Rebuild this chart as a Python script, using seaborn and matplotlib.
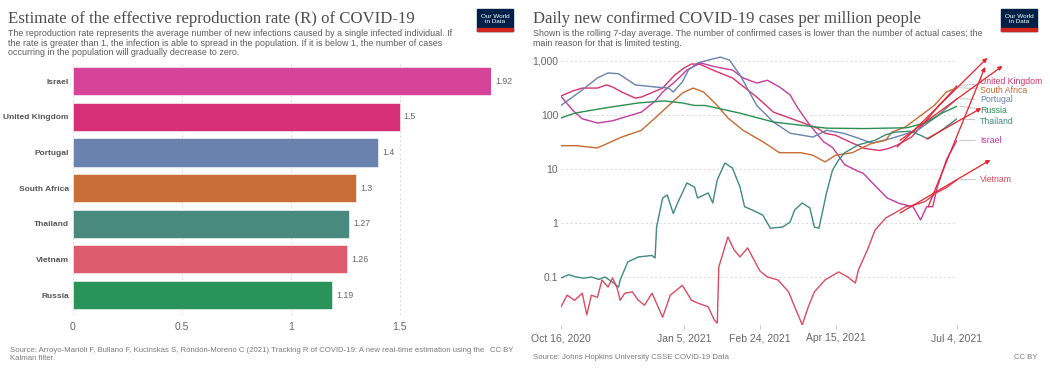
"""
Two-panel OWID style chart: R estimate bars + daily cases per million (log scale)
"""

import matplotlib.pyplot as plt
import matplotlib.dates as mdates
from matplotlib.patches import Rectangle
import seaborn as sns
import pandas as pd

sns.set_style("white")
plt.rcParams['font.family'] = ['Liberation Sans', 'DejaVu Sans']

W, H = 1050, 370

# ---- left panel data ----
r_countries = ['Israel', 'United Kingdom', 'Portugal', 'South Africa', 'Thailand', 'Vietnam', 'Russia']
r_values = [1.92, 1.5, 1.4, 1.3, 1.27, 1.26, 1.19]
bar_colors = ['#d6449a', '#d62f78', '#6a82ae', '#c96e37', '#488a7e', '#de5a6d', '#2a935a']

# ---- right panel data (days after Oct 16, 2020 ; cases per million) ----
start_date = pd.Timestamp('2020-10-16')

uk_days = [0, 8, 14, 24, 30, 34, 40, 49, 53, 60, 67, 75, 81, 86, 92, 100, 113, 129, 140, 158, 169, 174,
           181, 190, 200, 210, 216, 222, 231, 240, 249, 256, 261]
uk_cases = [225, 280, 315, 315, 360, 330, 266, 205, 215, 260, 315, 550, 740, 880, 860, 680, 485, 215, 113, 74, 57, 46,
            42, 32, 24, 22, 24, 28, 39, 74, 150, 240, 350]

israel_days = [0, 8, 14, 24, 34, 40, 53, 62, 67, 75, 83, 92, 100, 108, 113, 120, 129, 136, 144, 151, 156, 164, 173,
               179, 187, 196, 199, 208, 215, 223, 232, 237, 241, 245, 248, 254, 261]
israel_cases = [220, 120, 85, 71, 78, 88, 113, 180, 266, 410, 680, 920, 800, 720, 680, 485, 390, 440, 330, 235, 135, 65, 32,
                25, 12, 9, 8.4, 4.6, 2.9, 2.3, 2.0, 1.14, 2.0, 2.0, 4.6, 14.7, 34]

portugal_days = [0, 14, 24, 31, 38, 49, 62, 71, 74, 80, 84, 90, 105, 111, 118, 129, 140, 151, 166, 175, 186,
                 195, 205, 218, 235, 248, 261]
portugal_cases = [150, 290, 485, 600, 580, 360, 330, 315, 266, 410, 680, 920, 1180, 1040, 550, 150, 74, 46, 39, 52, 46,
                  38, 30, 37, 52, 95, 200]

south_africa_days = [0, 10, 24, 40, 53, 62, 71, 80, 87, 94, 103, 110, 120, 133, 144, 158, 166, 174, 181, 192,
                     199, 205, 214, 218, 227, 235, 246, 254, 261]
south_africa_cases = [27, 27, 24.5, 39, 52, 88, 150, 255, 315, 266, 150, 88, 52, 32, 20, 20, 18, 13.5, 18, 20,
                      25, 30, 34, 48, 60, 88, 150, 266, 320]

russia_days = [0, 9, 29, 51, 68, 80, 88, 95, 118, 140, 151, 175, 200, 228, 240, 251, 261]
russia_cases = [88, 108, 135, 167, 182, 167, 150, 150, 108, 74, 68, 57, 56, 58, 71, 108, 145]

thailand_days = [0, 5, 10, 15, 20, 25, 29, 34, 38, 39, 44, 51, 60, 62, 63, 67, 70, 74, 77, 83, 88, 90, 97, 100,
                 103, 108, 113, 118, 121, 126, 133, 138, 146, 151, 154, 159, 164, 167, 170, 175, 179, 183, 187,
                 196, 207, 214, 220, 230, 237, 242, 250, 261]
thailand_cases = [0.096, 0.11, 0.1, 0.095, 0.1, 0.09, 0.1, 0.08, 0.065, 0.088, 0.19, 0.235, 0.25, 0.225, 0.84, 2.9,
                  3.3, 1.5, 2.4, 5.5, 4.6, 2.9, 3.6, 2.35, 6.3, 12.9, 10.4, 4.6, 2.0, 1.74, 1.4, 0.8, 0.84, 1.04,
                  1.74, 2.35, 1.9, 0.84, 0.8, 3.6, 9.6, 14.7, 20, 28, 34, 43, 48, 50, 42, 36, 50, 85]

vietnam_days = [0, 4, 9, 14, 17, 20, 24, 27, 31, 34, 37, 39, 42, 47, 51, 55, 60, 67, 72, 80, 86, 90, 97, 101,
                103, 104, 110, 114, 118, 123, 131, 136, 143, 150, 154, 159, 163, 167, 174, 183, 189, 194, 196,
                202, 207, 214, 220, 227, 233, 240, 248, 254, 261]
vietnam_cases = [0.028, 0.046, 0.037, 0.05, 0.02, 0.046, 0.042, 0.088, 0.065, 0.096, 0.062, 0.037, 0.05, 0.053,
                 0.037, 0.03, 0.05, 0.018, 0.046, 0.07, 0.037, 0.033, 0.028, 0.016, 0.014, 0.153, 0.55, 0.32,
                 0.235, 0.345, 0.13, 0.1, 0.088, 0.053, 0.028, 0.013, 0.028, 0.053, 0.088, 0.124, 0.1, 0.077,
                 0.135, 0.32, 0.74, 1.24, 1.53, 2.0, 2.15, 2.5, 3.7, 4.5, 6.3]

line_colors = {'United Kingdom': '#d8336c', 'Israel': '#c43a9f', 'Portugal': '#6a80ae',
               'South Africa': '#c66a31', 'Russia': '#2a8f50', 'Thailand': '#3f8a7b', 'Vietnam': '#db4a60'}

# end labels (value where the label sits)
label_order = ['United Kingdom', 'South Africa', 'Portugal', 'Russia', 'Thailand', 'Israel', 'Vietnam']
label_vals = [420, 290, 190, 123, 77, 33, 6.5]

# red arrows drawn on the chart (days, value)
arrow_start_days = [221.5, 223.5, 242, 241, 223.5]
arrow_start_vals = [25.5, 34, 2.0, 36, 1.53]
arrow_end_days = [281, 291, 279.5, 277, 283]
arrow_end_vals = [1140, 810, 775, 134, 14.7]

series = {
    'United Kingdom': (uk_days, uk_cases),
    'Israel': (israel_days, israel_cases),
    'Portugal': (portugal_days, portugal_cases),
    'South Africa': (south_africa_days, south_africa_cases),
    'Russia': (russia_days, russia_cases),
    'Thailand': (thailand_days, thailand_cases),
    'Vietnam': (vietnam_days, vietnam_cases),
}

frames = []
for name, (days, vals) in series.items():
    frames.append(pd.DataFrame({'date': start_date + pd.to_timedelta(days, unit='D'),
                                'cases': vals, 'country': name}))
cases_df = pd.concat(frames, ignore_index=True)


def fx(px):
    return px / W


def fy(py):
    return 1 - py / H


def to_num(day):
    return mdates.date2num(start_date + pd.Timedelta(days=day))


def draw_logo(fig, x0):
    fig.add_artist(Rectangle((fx(x0), fy(31)), 36 / W, 22 / H, transform=fig.transFigure,
                             color='#002147', zorder=5))
    fig.add_artist(Rectangle((fx(x0), fy(31)), 36 / W, 2.5 / H, transform=fig.transFigure,
                             color='#ce261e', zorder=6))
    fig.text(fx(x0 + 18), fy(19), 'Our World\nin Data', color='white', fontsize=4.6,
             ha='center', va='center', linespacing=1.0, zorder=7)


fig = plt.figure(figsize=(W / 100, H / 100), dpi=100)

title_kw = dict(family=['Liberation Serif', 'DejaVu Serif'], fontsize=12.1, color='#4d4d4d')
sub_kw = dict(fontsize=6.4, color='#5b5b5b')
src_kw = dict(fontsize=5.6, color='#7a7a7a')

# ---------------- left panel ----------------
fig.text(fx(8), fy(23), 'Estimate of the effective reproduction rate (R) of COVID-19', **title_kw)
sub_left = ['The reproduction rate represents the average number of new infections caused by a single infected individual. If',
            'the rate is greater than 1, the infection is able to spread in the population. If it is below 1, the number of cases',
            'occurring in the population will gradually decrease to zero.']
for i, line in enumerate(sub_left):
    fig.text(fx(8), fy(36 + i * 9.5), line, **sub_kw)
draw_logo(fig, 477)

ax1 = fig.add_axes([fx(73), fy(315), (491 - 73) / W, (315 - 64) / H])
sns.barplot(x=r_values, y=r_countries, hue=r_countries, palette=bar_colors, legend=False,
            saturation=1, width=0.79, orient='h', ax=ax1, edgecolor='white', linewidth=0.4)
for c in ax1.containers:
    ax1.bar_label(c, fmt='%g', padding=3, fontsize=6.3, color='#666666')
ax1.set_xlim(0, 1.92)
ax1.set_ylim(6.56, -0.48)
ax1.set_xticks([0, 0.5, 1, 1.5])
ax1.set_xticklabels(['0', '0.5', '1', '1.5'])
ax1.set_xlabel('')
ax1.set_ylabel('')
ax1.xaxis.grid(True, linestyle=(0, (2, 2)), color='#dddddd', linewidth=0.8)
ax1.set_axisbelow(True)
for s in ax1.spines.values():
    s.set_visible(False)
ax1.tick_params(axis='x', length=0, labelsize=7.5, labelcolor='#666666', pad=5)
ax1.tick_params(axis='y', length=0, labelsize=6.0, labelcolor='#555555', pad=3)
for t in ax1.get_yticklabels():
    t.set_fontweight('bold')

fig.text(fx(10), fy(352), 'Source: Arroyo-Marioli F, Bullano F, Kucinskas S, Rondón-Moreno C (2021) Tracking R of COVID-19: '
         'A new real-time estimation using the', **src_kw)
fig.text(fx(10), fy(360), 'Kalman filter.', **src_kw)
fig.text(fx(513), fy(352), 'CC BY', ha='right', **src_kw)

# ---------------- right panel ----------------
fig.text(fx(533), fy(23), 'Daily new confirmed COVID-19 cases per million people', **title_kw)
fig.text(fx(533), fy(36), 'Shown is the rolling 7-day average. The number of confirmed cases is lower than the number of actual cases; the', **sub_kw)
fig.text(fx(533), fy(45.5), 'main reason for that is limited testing.', **sub_kw)
draw_logo(fig, 1001)

ax2 = fig.add_axes([fx(561), fy(325), (957 - 561) / W, (325 - 55) / H])
sns.lineplot(data=cases_df, x='date', y='cases', hue='country', palette=line_colors,
             estimator=None, legend=False, linewidth=1.0, ax=ax2)
ax2.set_yscale('log')
ax2.set_ylim(0.0129, 1290)
ax2.set_xlim(to_num(0), to_num(261))
ax2.set_yticks([0.1, 1, 10, 100, 1000])
ax2.set_yticklabels(['0.1', '1', '10', '100', '1,000'])
ax2.minorticks_off()
tick_days = [0, 81, 131, 181, 261]
ax2.set_xticks([to_num(d) for d in tick_days])
ax2.set_xticklabels(['Oct 16, 2020', 'Jan 5, 2021', 'Feb 24, 2021', 'Apr 15, 2021', 'Jul 4, 2021'])
ax2.set_xlabel('')
ax2.set_ylabel('')
ax2.yaxis.grid(True, linestyle=(0, (2, 2)), color='#dddddd', linewidth=0.8)
ax2.xaxis.grid(False)
ax2.set_axisbelow(True)
for s in ax2.spines.values():
    s.set_visible(False)
ax2.tick_params(axis='y', length=0, labelsize=7.5, labelcolor='#666666', pad=2)
ax2.tick_params(axis='x', bottom=True, length=3, width=0.6, color='#bbbbbb',
                labelsize=7.5, labelcolor='#666666', pad=3)

# country labels at the right end
for name, lv in zip(label_order, label_vals):
    end_val = series[name][1][-1]
    ax2.annotate(name, xy=(to_num(262), end_val), xytext=(to_num(276), lv),
                 color=line_colors[name], fontsize=6.3, va='center', annotation_clip=False,
                 arrowprops=dict(arrowstyle='-', color='#bbbbbb', lw=0.6, shrinkA=1, shrinkB=1))

# red arrows
for sd, sv, ed, ev in zip(arrow_start_days, arrow_start_vals, arrow_end_days, arrow_end_vals):
    ax2.annotate('', xy=(to_num(ed), ev), xytext=(to_num(sd), sv), annotation_clip=False,
                 arrowprops=dict(arrowstyle='-|>', color='#e8212b', lw=0.9, mutation_scale=6,
                                 shrinkA=0, shrinkB=0))

fig.text(fx(533), fy(359), 'Source: Johns Hopkins University CSSE COVID-19 Data', **src_kw)
fig.text(fx(1037), fy(359), 'CC BY', ha='right', **src_kw)

plt.savefig('out.png', dpi=100)
